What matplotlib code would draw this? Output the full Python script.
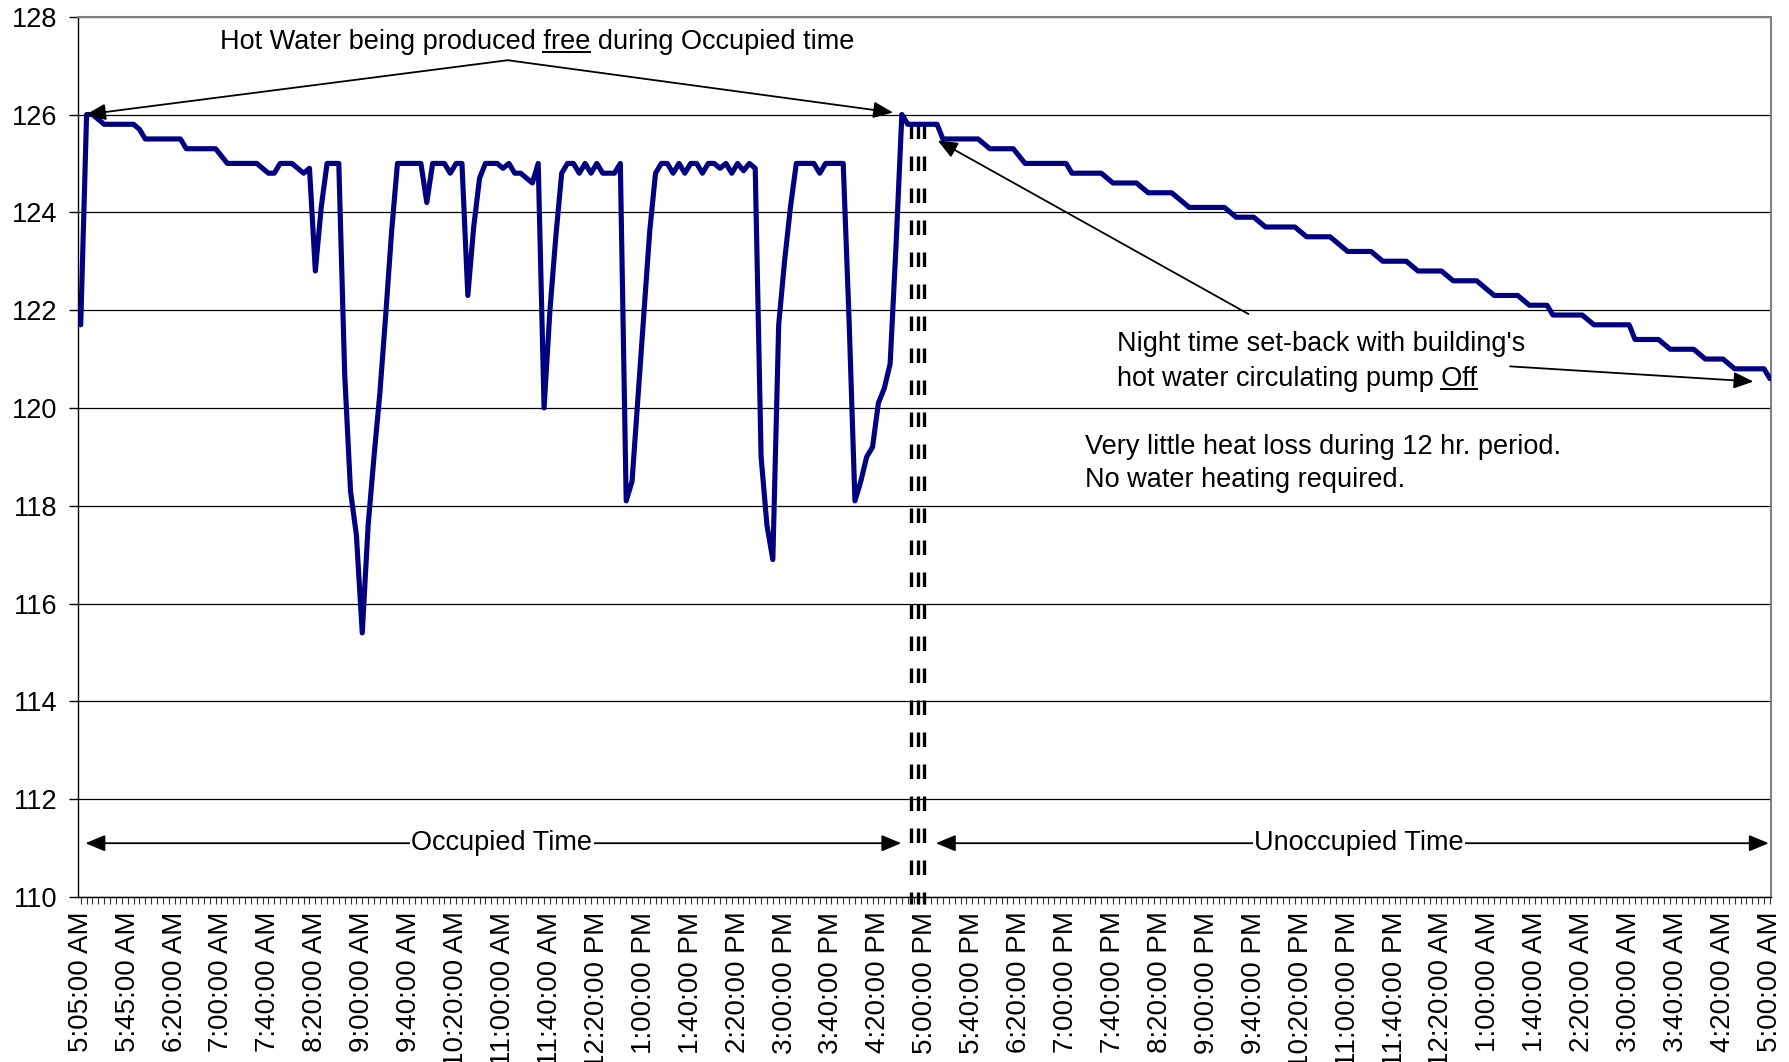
import matplotlib
matplotlib.use("Agg")
import matplotlib.pyplot as plt
from matplotlib.lines import Line2D

plt.rcParams['font.family'] = ['Liberation Sans', 'DejaVu Sans']
plt.rcParams['lines.scale_dashes'] = False

# ---------------- data ----------------
tick_labels = [
    "5:05:00 AM", "5:45:00 AM", "6:20:00 AM", "7:00:00 AM", "7:40:00 AM",
    "8:20:00 AM", "9:00:00 AM", "9:40:00 AM", "10:20:00 AM", "11:00:00 AM",
    "11:40:00 AM", "12:20:00 PM", "1:00:00 PM", "1:40:00 PM", "2:20:00 PM",
    "3:00:00 PM", "3:40:00 PM", "4:20:00 PM", "5:00:00 PM", "5:40:00 PM",
    "6:20:00 PM", "7:00:00 PM", "7:40:00 PM", "8:20:00 PM", "9:00:00 PM",
    "9:40:00 PM", "10:20:00 PM", "11:00:00 PM", "11:40:00 PM", "12:20:00 AM",
    "1:00:00 AM", "1:40:00 AM", "2:20:00 AM", "3:00:00 AM", "3:40:00 AM",
    "4:20:00 AM", "5:00:00 AM",
]
label_every = 8

temps = [
    121.7, 126.0, 126.0, 125.9, 125.8, 125.8, 125.8, 125.8, 125.8, 125.8,
    125.7, 125.5, 125.5, 125.5, 125.5, 125.5, 125.5, 125.5, 125.3, 125.3,
    125.3, 125.3, 125.3, 125.3, 125.15, 125.0, 125.0, 125.0, 125.0, 125.0,
    125.0, 124.9, 124.8, 124.8, 125.0, 125.0, 125.0, 124.9, 124.8, 124.9,
    122.8, 124.1, 125.0, 125.0, 125.0, 120.7, 118.3, 117.4, 115.4, 117.6,
    119.0, 120.3, 121.9, 123.6, 125.0, 125.0, 125.0, 125.0, 125.0, 124.2,
    125.0, 125.0, 125.0, 124.8, 125.0, 125.0, 122.3, 123.7, 124.7, 125.0,
    125.0, 125.0, 124.9, 125.0, 124.8, 124.8, 124.7, 124.6, 125.0, 120.0,
    122.0, 123.5, 124.8, 125.0, 125.0, 124.8, 125.0, 124.8, 125.0, 124.8,
    124.8, 124.8, 125.0, 118.1, 118.5, 120.2, 121.9, 123.6, 124.8, 125.0,
    125.0, 124.8, 125.0, 124.8, 125.0, 125.0, 124.8, 125.0, 125.0, 124.9,
    125.0, 124.8, 125.0, 124.85, 125.0, 124.9, 119.0, 117.6, 116.9, 121.7,
    123.0, 124.1, 125.0, 125.0, 125.0, 125.0, 124.8, 125.0, 125.0, 125.0,
    125.0, 121.8, 118.1, 118.5, 119.0, 119.2, 120.1, 120.4, 120.9, 123.3,
    126.0, 125.8, 125.8, 125.8, 125.8, 125.8, 125.8, 125.5, 125.5, 125.5,
    125.5, 125.5, 125.5, 125.5, 125.4, 125.3, 125.3, 125.3, 125.3, 125.3,
    125.15, 125.0, 125.0, 125.0, 125.0, 125.0, 125.0, 125.0, 125.0, 124.8,
    124.8, 124.8, 124.8, 124.8, 124.8, 124.7, 124.6, 124.6, 124.6, 124.6,
    124.6, 124.5, 124.4, 124.4, 124.4, 124.4, 124.4, 124.3, 124.2, 124.1,
    124.1, 124.1, 124.1, 124.1, 124.1, 124.1, 124.0, 123.9, 123.9, 123.9,
    123.9, 123.8, 123.7, 123.7, 123.7, 123.7, 123.7, 123.7, 123.6, 123.5,
    123.5, 123.5, 123.5, 123.5, 123.4, 123.3, 123.2, 123.2, 123.2, 123.2,
    123.2, 123.1, 123.0, 123.0, 123.0, 123.0, 123.0, 122.9, 122.8, 122.8,
    122.8, 122.8, 122.8, 122.7, 122.6, 122.6, 122.6, 122.6, 122.6, 122.5,
    122.4, 122.3, 122.3, 122.3, 122.3, 122.3, 122.2, 122.1, 122.1, 122.1,
    122.1, 121.9, 121.9, 121.9, 121.9, 121.9, 121.9, 121.8, 121.7, 121.7,
    121.7, 121.7, 121.7, 121.7, 121.7, 121.4, 121.4, 121.4, 121.4, 121.4,
    121.3, 121.2, 121.2, 121.2, 121.2, 121.2, 121.1, 121.0, 121.0, 121.0,
    121.0, 120.9, 120.8, 120.8, 120.8, 120.8, 120.8, 120.8, 120.6,
]

# boundary between occupied / unoccupied periods (category positions)
boundary_x = [141.6, 142.7, 143.7]

# ---------------- figure ----------------
W, H = 1789, 1062
fig = plt.figure(figsize=(W / 100, H / 100), dpi=100)
ax = fig.add_axes([77.5 / W, 1 - 897 / H, (1770.5 - 77.5) / W, (897 - 16.7) / H])

xs = list(range(len(temps)))
ax.plot(xs, temps, color='#000080', lw=3.7, zorder=4,
        solid_joinstyle='round', solid_capstyle='round')

ax.set_xlim(-0.55, 288.1)
ax.set_ylim(110, 128)
ax.set_yticks(range(110, 129, 2))
ax.yaxis.grid(True, color='black', lw=0.9)
ax.set_axisbelow(True)

major = list(range(0, len(temps), label_every))
ax.set_xticks(major)
ax.set_xticklabels(tick_labels, rotation=90, va='top', ha='center')
ax.set_xticks(xs, minor=True)
ax.tick_params(axis='x', which='both', direction='out', length=5, width=0.8,
               color='#303030')
ax.tick_params(axis='x', which='major', labelsize=20, pad=5.5)
ax.tick_params(axis='y', direction='out', length=6.5, width=1,
               labelsize=19.5, pad=8)

for s in ['left', 'bottom']:
    ax.spines[s].set_color('black')
    ax.spines[s].set_linewidth(1.0)
for s in ['top', 'right']:
    ax.spines[s].set_color('#808080')
    ax.spines[s].set_linewidth(1.5)

# boundary dashed lines
for bx in boundary_x:
    ax.plot([bx, bx], [125.816, 109.857], color='black', lw=2.4,
            linestyle=(0, (10.44, 12.6)), dash_capstyle='butt',
            clip_on=False, zorder=3)

# ---------------- annotations ----------------
FS = 19.5
head = "-|>,head_length=0.6,head_width=0.25"
dhead = "<|-|>,head_length=0.6,head_width=0.25"

def arrow(tip, start, style=head):
    ax.annotate('', xy=tip, xytext=start, zorder=5,
                arrowprops=dict(arrowstyle=style, color='black', lw=1.3,
                                shrinkA=0, shrinkB=0, mutation_scale=20))

# hot water arrows
apex = (72.8, 127.11)
arrow((0.9, 126.0), apex)
arrow((138.5, 126.04), apex)
t_hot = ax.text(23.75, 127.48, "Hot Water being produced free during Occupied time",
                fontsize=FS, ha='left', va='center', zorder=6)

# night time arrows
arrow((146.1, 125.47), (199.1, 121.92))
arrow((285.2, 120.54), (243.7, 120.85))
ax.text(176.6, 121.30, "Night time set-back with building's",
        fontsize=FS, ha='left', va='center', zorder=6)
t_off = ax.text(176.6, 120.59, "hot water circulating pump Off",
                fontsize=FS, ha='left', va='center', zorder=6)
ax.text(171.2, 119.20, "Very little heat loss during 12 hr. period.",
        fontsize=FS, ha='left', va='center', zorder=6)
ax.text(171.2, 118.52, "No water heating required.",
        fontsize=FS, ha='left', va='center', zorder=6)

# occupied / unoccupied span arrows
arrow((0.8, 111.10), (139.9, 111.10), style=dhead)
arrow((145.8, 111.10), (287.8, 111.10), style=dhead)
bb = dict(facecolor='white', edgecolor='none', pad=1.0)
ax.text(71.8, 111.11, "Occupied Time", fontsize=FS, ha='center', va='center',
        zorder=7, bbox=bb)
ax.text(217.9, 111.11, "Unoccupied Time", fontsize=FS, ha='center', va='center',
        zorder=7, bbox=bb)

# ---------------- underlines ----------------
fig.canvas.draw()
renderer = fig.canvas.get_renderer()

def underline(tart, upto, word):
    x, y = tart.get_position()
    kw = dict(fontsize=tart.get_fontsize(), ha='left', va=tart.get_va())
    t1 = ax.text(x, y, upto, **kw)
    t2 = ax.text(x, y, word, **kw)
    b1 = t1.get_window_extent(renderer)
    b2 = t2.get_window_extent(renderer)
    t1.remove(); t2.remove()
    em = tart.get_fontsize() * fig.dpi / 72.0
    x1 = b1.x1
    x0 = x1 - b2.width
    yy = b1.y0 + (0.212 - 0.106) * em
    inv = fig.transFigure.inverted()
    (fx0, fy), (fx1, _) = inv.transform([(x0, yy), (x1, yy)])
    fig.add_artist(Line2D([fx0, fx1], [fy, fy], transform=fig.transFigure,
                          color='black', lw=0.073 * em * 0.72))

underline(t_hot, "Hot Water being produced free", "free")
underline(t_off, "hot water circulating pump Off", "Off")

fig.savefig('out.png', dpi=100)
